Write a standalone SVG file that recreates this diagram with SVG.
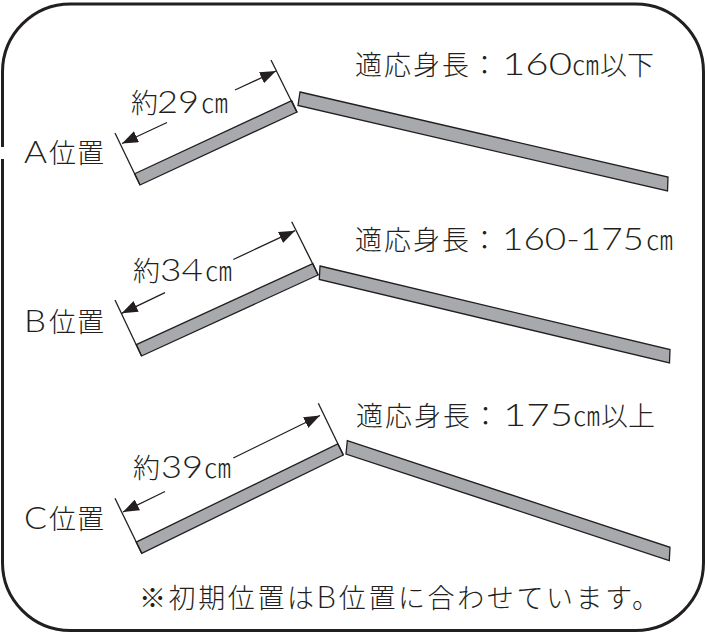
<svg xmlns="http://www.w3.org/2000/svg" width="707" height="634" viewBox="0 0 707 634">
<defs>
<style>
.t{font-family:"Noto Sans CJK JP","Noto Sans CJK SC",sans-serif;font-size:27px;font-weight:300;fill:#231f20}
.lat{font-family:Lato,"Noto Sans CJK JP",sans-serif;font-size:31px;font-weight:300}
.board{fill:#a7a9ac;stroke:#231f20;stroke-width:1.3;stroke-linejoin:miter}
.tick{stroke:#231f20;stroke-width:1.3;fill:none}
.dim{stroke:#231f20;stroke-width:1.3;fill:none;marker-end:url(#ah)}
.frame{fill:none;stroke:#231f20;stroke-width:3}
</style>
<marker id="ah" viewBox="0 0 16 12" refX="16" refY="6" markerWidth="16" markerHeight="12" markerUnits="userSpaceOnUse" orient="auto">
<path d="M0,0 L16,6 L0,12 Z" fill="#231f20"/>
</marker>
</defs>
<rect width="707" height="634" fill="#ffffff"/>
<path class="frame" d="M2.5,159 L2.5,562.5 A68,68 0 0 0 70.5,630.5 L635.5,630.5 A68,68 0 0 0 703.5,562.5 L703.5,72 A68,68 0 0 0 635.5,4 L70.5,4 A68,68 0 0 0 2.5,72 L2.5,147"/>

<g id="pos-a">
<polygon class="board" points="140,185 297,112 291.7,100.7 134.7,173.7"/>
<polygon class="board" points="300,92 668,177 667.5,191 298,105.5"/>
<line class="tick" x1="115" y1="133" x2="140" y2="185"/>
<line class="tick" x1="271" y1="60" x2="297" y2="112.5"/>
<g id="dim-a">
<line class="dim" x1="167" y1="122.5" x2="122" y2="143.5"/>
<line class="dim" x1="235" y1="90" x2="276" y2="71"/>
</g>
<text class="t" x="131" y="113">約<tspan class="lat" x="157" textLength="42" lengthAdjust="spacingAndGlyphs">29</tspan><tspan x="201">㎝</tspan></text>
<text class="t" x="24" y="163"><tspan class="lat" textLength="23" lengthAdjust="spacingAndGlyphs">A</tspan><tspan x="49 77">位置</tspan></text>
<text class="t" x="355 384 413 442 471" y="75">適応身長：<tspan class="lat" x="502" textLength="70" lengthAdjust="spacingAndGlyphs">160</tspan><tspan x="572 600 627">㎝以下</tspan></text>
</g>

<g id="pos-b">
<polygon class="board" points="141.5,356 318,275 312.8,263.6 136.3,344.6"/>
<polygon class="board" points="320,266 670,349.5 669.5,363 319.3,279.5"/>
<line class="tick" x1="115" y1="300" x2="141.5" y2="356"/>
<line class="tick" x1="291.7" y1="221.7" x2="318.3" y2="275"/>
<g id="dim-b">
<line class="dim" x1="165" y1="292.6" x2="121.7" y2="313.3"/>
<line class="dim" x1="233.3" y1="259.5" x2="295" y2="230.7"/>
</g>
<text class="t" x="133" y="281">約<tspan class="lat" x="160" textLength="43" lengthAdjust="spacingAndGlyphs">34</tspan><tspan x="205">㎝</tspan></text>
<text class="t" x="24" y="332"><tspan class="lat" textLength="22" lengthAdjust="spacingAndGlyphs">B</tspan><tspan x="49 77">位置</tspan></text>
<text class="t" x="355 384 413 442 471" y="250">適応身長：<tspan class="lat" x="502" textLength="142" lengthAdjust="spacingAndGlyphs">160-175</tspan><tspan x="646">㎝</tspan></text>
</g>

<g id="pos-c">
<polygon class="board" points="141.7,553.3 343.3,455 337.8,443.8 136.2,542.1"/>
<polygon class="board" points="347.3,440.7 670,547.3 669.3,560.5 346,454"/>
<line class="tick" x1="115" y1="498.3" x2="141.7" y2="553.3"/>
<line class="tick" x1="318.3" y1="403.3" x2="343.3" y2="455"/>
<g id="dim-c">
<line class="dim" x1="165" y1="491.5" x2="123" y2="512"/>
<line class="dim" x1="233.3" y1="458" x2="320" y2="415.5"/>
</g>
<text class="t" x="133" y="478">約<tspan class="lat" x="161" textLength="42" lengthAdjust="spacingAndGlyphs">39</tspan><tspan x="204">㎝</tspan></text>
<text class="t" x="24" y="529"><tspan class="lat" textLength="23" lengthAdjust="spacingAndGlyphs">C</tspan><tspan x="49 77">位置</tspan></text>
<text class="t" x="356 385 414 443 472" y="426">適応身長：<tspan class="lat" x="503" textLength="70" lengthAdjust="spacingAndGlyphs">175</tspan><tspan x="573 601 628">㎝以上</tspan></text>
</g>

<g id="note">
<text class="t" x="139" y="608" letter-spacing="2.6">※初期位置は<tspan class="lat" font-size="29">B</tspan>位置に合わせています。</text>
</g>
</svg>
